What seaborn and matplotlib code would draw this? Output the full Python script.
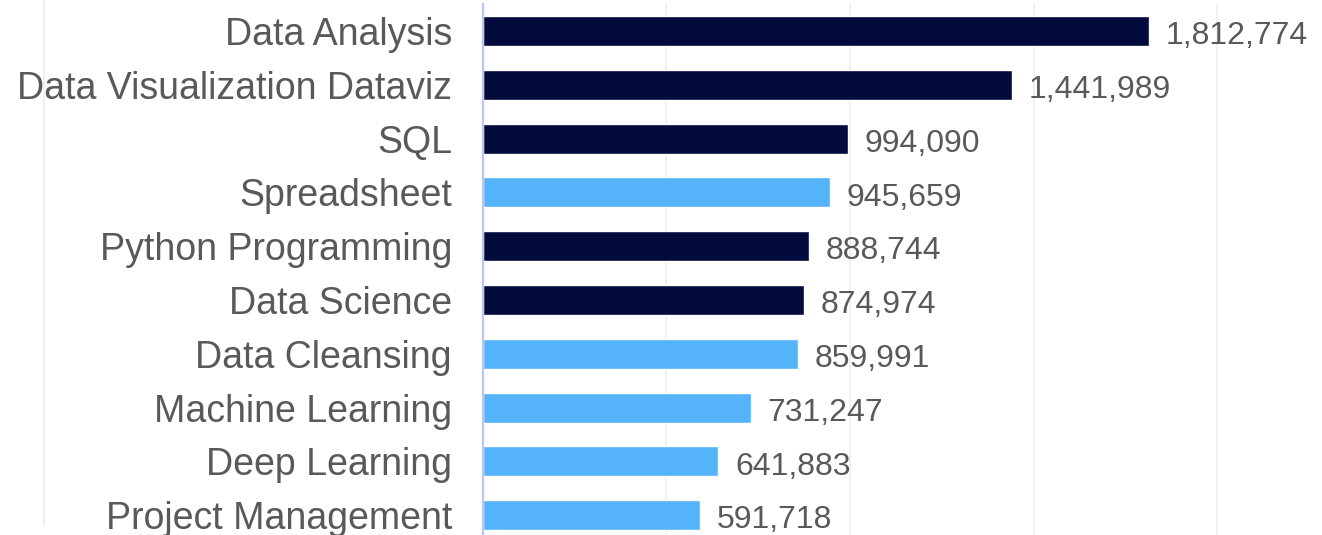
import matplotlib
matplotlib.use("Agg")
import matplotlib.pyplot as plt
from matplotlib.lines import Line2D
import pandas as pd
import seaborn as sns

# Skill demand (number of mentions), top to bottom
skills = [
    "Data Analysis",
    "Data Visualization Dataviz",
    "SQL",
    "Spreadsheet",
    "Python Programming",
    "Data Science",
    "Data Cleansing",
    "Machine Learning",
    "Deep Learning",
    "Project Management",
]
counts = [1812774, 1441989, 994090, 945659, 888744, 874974, 859991, 731247, 641883, 591718]
groups = ["core", "core", "core", "other", "core", "core", "other", "other", "other", "other"]

group_colors = {"core": "#020B3B", "other": "#55B4F9"}

df = pd.DataFrame({"skill": skills, "count": counts, "group": groups})

sns.set_theme(style="white")
plt.rcParams["font.family"] = ["Liberation Sans", "DejaVu Sans"]

W, H = 1322, 535
fig = plt.figure(figsize=(W / 100, H / 100), dpi=100)
ax = fig.add_axes([482.5 / W, -7.1 / H, (W - 482.5) / W, 538 / H])

sns.barplot(
    data=df, y="skill", x="count", hue="group", palette=group_colors,
    order=skills, hue_order=["core", "other"], dodge=False, width=0.56,
    orient="h", legend=False, ax=ax, saturation=1,
)

ax.set_xlim(0, 2285000)
ax.set_xticks([500000, 1000000, 1500000, 2000000])
ax.set_xticklabels([])
ax.grid(axis="x", color="#EFEFEF", linewidth=1.3)
ax.set_axisbelow(True)
ax.tick_params(axis="both", length=0)
ax.tick_params(axis="y", pad=22, labelsize=27, labelcolor="#595959")
ax.set_xlabel("")
ax.set_ylabel("")

for side in ["top", "right", "bottom"]:
    ax.spines[side].set_visible(False)
ax.spines["left"].set_color("#BCC6F5")
ax.spines["left"].set_linewidth(1.6)

for container in ax.containers:
    labels = ax.bar_label(container, fmt="{:,.0f}", padding=12, fontsize=23, color="#595959")
    for t in labels:
        t.set_va("center_baseline")
        x, y = t.xyann
        t.xyann = (x, y - 1.2)

# Chart area border on the left
fig.add_artist(Line2D([44 / W, 44 / W], [1, 1 - 525 / H], color="#EFEFEF", linewidth=1.3))

fig.savefig("out.png", dpi=100)
